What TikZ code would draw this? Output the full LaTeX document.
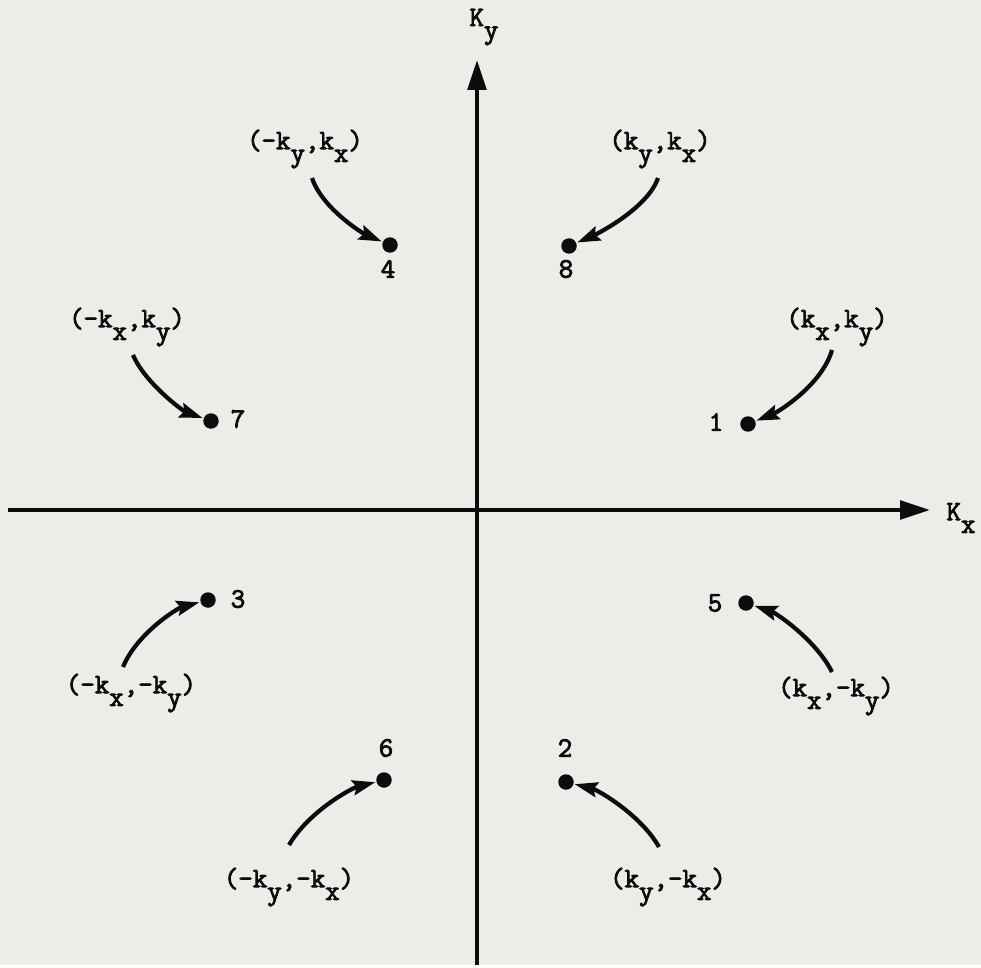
\documentclass[tikz,border=0pt]{standalone}
\usepackage{fontspec}
\setmonofont{Latin Modern Mono}[AutoFakeBold=3]
\usetikzlibrary{arrows.meta}
\definecolor{paper}{RGB}{236,236,233}
\definecolor{ink}{RGB}{12,12,12}
\newcommand{\sbx}[1]{\raisebox{-0.45em}{#1}}
\begin{document}
\begin{tikzpicture}[x=0.02cm,y=-0.02cm,
  lab/.style={font=\ttfamily\bfseries\fontsize{16pt}{18pt}\selectfont, inner sep=0pt, text=ink},
  num/.style={font=\ttfamily\bfseries\fontsize{16pt}{18pt}\selectfont, inner sep=0pt, text=ink},
  dot/.style={circle, fill=ink, minimum size=0.31cm, inner sep=0pt},
  axis/.style={draw=ink, line width=2.4pt, -{Triangle[length=17pt,width=10.5pt]}},
  pointer/.style={draw=ink, line width=2.4pt, -{Stealth[length=13pt,width=8.5pt,inset=2pt]}, shorten >=0.5pt},
]
\fill[paper] (0,0) rectangle (981,965);

% axes
\coordinate (yb) at (477,965);
\coordinate (yt) at (477,60);
\coordinate (xl) at (8,510);
\coordinate (xr) at (930,510);
\draw[axis] (yb) -- (yt);
\draw[axis] (xl) -- (xr);
\node[lab] (ky) at (484,27) {K\sbx{y}};
\node[lab] (kx) at (961,518) {K\sbx{x}};

% dots
\node[dot] (d4) at (390,245) {};
\node[dot] (d8) at (569,246) {};
\node[dot] (d7) at (211,421) {};
\node[dot] (d1) at (748,424) {};
\node[dot] (d3) at (208,600) {};
\node[dot] (d5) at (746,603) {};
\node[dot] (d6) at (384,780) {};
\node[dot] (d2) at (566,782) {};

% numbers
\node[num] (n4) at (388,269) {4};
\node[num] (n8) at (566,269) {8};
\node[num] (n7) at (238,419) {7};
\node[num] (n1) at (716,422) {1};
\node[num] (n3) at (238,599) {3};
\node[num] (n5) at (715,603) {5};
\node[num] (n6) at (386,748) {6};
\node[num] (n2) at (565,748) {2};

% coordinate labels
\node[lab] (l4) at (305,149) {(-k\sbx{y},k\sbx{x})};
\node[lab] (l8) at (660,149) {(k\sbx{y},k\sbx{x})};
\node[lab] (l7) at (127,327) {(-k\sbx{x},k\sbx{y})};
\node[lab] (l1) at (837,327) {(k\sbx{x},k\sbx{y})};
\node[lab] (l3) at (131,693) {(-k\sbx{x},-k\sbx{y})};
\node[lab] (l5) at (836,696) {(k\sbx{x},-k\sbx{y})};
\node[lab] (l6) at (289,887) {(-k\sbx{y},-k\sbx{x})};
\node[lab] (l2) at (668,887) {(k\sbx{y},-k\sbx{x})};

% pointer starts
\coordinate (s4) at (312,178);
\coordinate (s8) at (658,178);
\coordinate (s7) at (133,355);
\coordinate (s1) at (832,350);
\coordinate (s3) at (123,667);
\coordinate (s5) at (832,672);
\coordinate (s6) at (289,845);
\coordinate (s2) at (659,847);

% pointers
\draw[pointer] (s4) .. controls +(10,30) and +(-28,-12) .. (d4);
\draw[pointer] (s8) .. controls +(-10,30) and +(28,-12) .. (d8);
\draw[pointer] (s7) .. controls +(12,28) and +(-28,-10) .. (d7);
\draw[pointer] (s1) .. controls +(-10,35) and +(30,-12) .. (d1);
\draw[pointer] (s3) .. controls +(14,-34) and +(-30,8) .. (d3);
\draw[pointer] (s5) .. controls +(-16,-32) and +(30,10) .. (d5);
\draw[pointer] (s6) .. controls +(20,-34) and +(-32,8) .. (d6);
\draw[pointer] (s2) .. controls +(-18,-32) and +(32,8) .. (d2);
\end{tikzpicture}
\end{document}
